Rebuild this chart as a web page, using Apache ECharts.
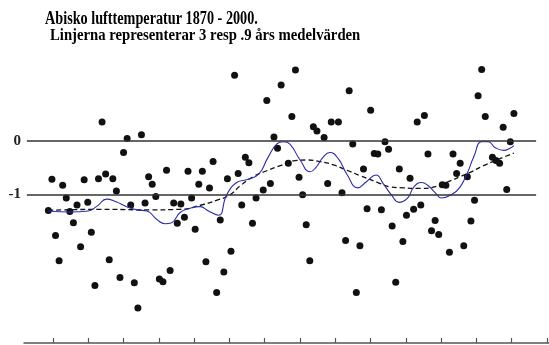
<!DOCTYPE html>
<html>
<head>
<meta charset="utf-8">
<script src="https://cdn.jsdelivr.net/npm/echarts@6/dist/echarts.min.js"></script>
<style>
  html, body { margin: 0; padding: 0; background: #fff; }
  #chart { width: 549px; height: 345px; }
</style>
</head>
<body>
<div id="chart"></div>
<script>
// årsvärden (punkter)
const years = [
  1870, 1871, 1872, 1873, 1874, 1875, 1876, 1877, 1878, 1879,
  1880, 1881, 1882, 1883, 1884, 1885, 1886, 1887, 1888, 1889,
  1890, 1891, 1892, 1893, 1894, 1895, 1896, 1897, 1898, 1899,
  1900, 1901, 1902, 1903, 1904, 1905, 1906, 1907, 1908, 1909,
  1910, 1911, 1912, 1913, 1914, 1915, 1916, 1917, 1918, 1919,
  1920, 1921, 1922, 1923, 1924, 1925, 1926, 1927, 1928, 1930,
  1931, 1932, 1933, 1934, 1935, 1937, 1938, 1939, 1940, 1941,
  1942, 1943, 1944, 1945, 1947, 1948, 1949, 1951, 1952, 1953,
  1954, 1955, 1956, 1957, 1958, 1959, 1960, 1961, 1962, 1963,
  1964, 1965, 1966, 1967, 1968, 1969, 1970, 1971, 1972, 1973,
  1974, 1975, 1976, 1977, 1978, 1979, 1980, 1981, 1982, 1983,
  1984, 1985, 1986, 1987, 1988, 1989, 1990, 1991, 1992, 1994,
  1995, 1996, 1997, 1998, 1999, 2000
];
const temps = [
  -1.30, -0.72, -1.77, -2.24, -0.83, -1.07, -1.32, -1.53, -1.20, -1.98,
  -0.73, -1.15, -1.71, -2.70, -0.71, 0.35, -0.62, -2.22, -0.71, -0.94,
  -2.55, -0.22, 0.04, -1.20, -2.65, -3.12, 0.11, -1.16, -0.67, -0.81,
  -1.04, -2.58, -2.63, -0.55, -2.42, -1.16, -1.54, -1.18, -1.43, -0.57,
  -1.07, -1.65, -0.81, -0.57, -2.26, -0.88, -0.39, -2.83, -1.48, -2.45,
  -0.71, -2.06, 1.22, -0.61, -1.20, -0.31, -0.41, -1.54, -1.07, -0.92,
  0.75, -0.80, 0.07, -0.14, 1.04, -0.42, 0.45, 1.32, -0.68, -1.01,
  -1.57, -2.24, 0.26, 0.18, 0.06, -0.80, 0.35, 0.35, -0.97, -1.86,
  0.93, -0.06, -2.83, -1.96, -0.53, -1.27, 0.57, -0.24, -0.25, -1.29,
  -0.02, -0.16, -1.59, -2.64, -0.53, -1.88, -1.39, -0.70, -1.28, 0.35,
  -1.20, 0.47, -0.25, -1.68, -1.49, -1.75, -0.82, -0.83, -2.08, -0.25,
  -0.61, -0.42, -1.96, -0.67, -1.50, -1.11, 0.84, 1.33, 0.45, -0.31,
  -0.37, -0.42, 0.25, -0.91, -0.02, 0.51
];

// blå kurva (3 år)
const blueYears = [
  1870, 1876.1, 1881.2, 1883.6, 1886.3, 1888.9, 1891.9, 1894.7, 1897.5, 1900.3,
  1902.6, 1904.4, 1906.8, 1909.6, 1912.4, 1914.7, 1917.5, 1919.8, 1922.6, 1925.8,
  1928.8, 1931.2, 1933.8, 1935.6, 1937.5, 1940.3, 1943.1, 1944.7, 1946.8, 1948.6,
  1951, 1953.4, 1956.4, 1958.9, 1961.5, 1963.5, 1965.9, 1967.9, 1970.3, 1972.1,
  1974.2, 1976.1, 1978, 1979.8, 1982.7, 1984.9, 1987, 1988.8, 1991, 1992.8,
  1994.8, 1997.2, 1998.9, 2000
];
const blueVals = [
  -1.31, -1.33, -1.31, -1.22, -1.09, -1.14, -1.23, -1.29, -1.31, -1.47,
  -1.55, -1.53, -1.34, -1.26, -1.23, -1.31, -1.39, -1.01, -0.78, -0.72,
  -0.62, -0.33, -0.06, -0.02, -0.07, -0.36, -0.58, -0.50, -0.30, -0.22,
  -0.34, -0.63, -0.88, -0.76, -0.64, -0.80, -1.02, -1.15, -1.07, -0.86,
  -0.78, -0.84, -0.97, -1.07, -1.00, -0.87, -0.60, -0.30, -0.02, -0.02,
  -0.13, -0.18, -0.14, -0.09
];

// streckad kurva (9 år)
const dashYears = [
  1870, 1884.4, 1898.4, 1906.8, 1913.2, 1917.1, 1920.7, 1923.6, 1927.2, 1931,
  1935, 1938.9, 1942.2, 1945.9, 1949.6, 1953.3, 1957, 1962, 1965.4, 1969.1,
  1973.8, 1978.5, 1982.2, 1985, 1987.8, 1991.4, 1995.2, 2000
];
const dashVals = [
  -1.30, -1.28, -1.29, -1.28, -1.19, -1.11, -1.01, -0.84, -0.67, -0.56,
  -0.46, -0.37, -0.36, -0.39, -0.45, -0.55, -0.65, -0.78, -0.86, -0.88,
  -0.89, -0.85, -0.75, -0.67, -0.59, -0.47, -0.36, -0.23
];

// axelns streck (omärkta) och referenslinjer
const tickYears = [
  1871.3, 1881.15, 1891.0, 1900.85, 1910.7, 1920.55, 1930.4, 1940.25,
  1950.1, 1959.95, 1969.8, 1979.65, 1989.5, 1999.35, 2009.2
];
const refLevels = [0, -1];

const titleFont = '"Liberation Serif", "Times New Roman", serif';

const chart = echarts.init(document.getElementById('chart'));
chart.setOption({
  animation: false,
  backgroundColor: '#fff',
  graphic: [
    {
      type: 'text', x: 45, y: 10, scaleX: 0.79,
      style: {
        text: 'Abisko lufttemperatur 1870 - 2000.',
        font: 'bold 18px ' + titleFont, fill: '#000', verticalAlign: 'top'
      }
    },
    {
      type: 'text', x: 50, y: 28, scaleX: 0.92,
      style: {
        text: 'Linjerna representerar 3 resp .9 års medelvärden',
        font: 'bold 16px ' + titleFont, fill: '#000', verticalAlign: 'top'
      }
    }
  ],
  grid: { left: 24, right: 0, top: 40, bottom: 2 },
  xAxis: {
    type: 'value',
    min: 1863.2,
    max: 2009.8,
    axisLine: { show: true, onZero: false, lineStyle: { color: '#555', width: 1.5 } },
    axisTick: {
      show: true, inside: true, length: 5,
      customValues: tickYears,
      lineStyle: { color: '#555', width: 1.2 }
    },
    axisLabel: { show: false },
    splitLine: { show: false }
  },
  yAxis: {
    type: 'value',
    min: -3.774,
    max: 1.879,
    axisLine: { show: false },
    axisTick: { show: false },
    splitLine: { show: false },
    axisLabel: {
      customValues: refLevels,
      margin: 3,
      fontFamily: titleFont,
      fontWeight: 'bold',
      fontSize: 15,
      color: '#222'
    }
  },
  series: [
    {
      type: 'line',
      data: dashYears.map((y, i) => [y, dashVals[i]]),
      smooth: true,
      symbol: 'none',
      lineStyle: { color: '#111', width: 1.3, type: [5, 3] },
      silent: true
    },
    {
      type: 'line',
      data: blueYears.map((y, i) => [y, blueVals[i]]),
      smooth: true,
      symbol: 'none',
      lineStyle: { color: '#2c2ca8', width: 1.1 },
      silent: true
    },
    {
      type: 'scatter',
      data: years.map((y, i) => [y, temps[i]]),
      symbolSize: 7,
      itemStyle: { color: '#111', opacity: 1 },
      markLine: {
        silent: true,
        symbol: 'none',
        label: { show: false },
        lineStyle: { color: '#333', width: 1.5, type: 'solid' },
        data: refLevels.map(v => [{ coord: [1864, v] }, { coord: [2006.2, v] }])
      }
    }
  ]
});
</script>
</body>
</html>
